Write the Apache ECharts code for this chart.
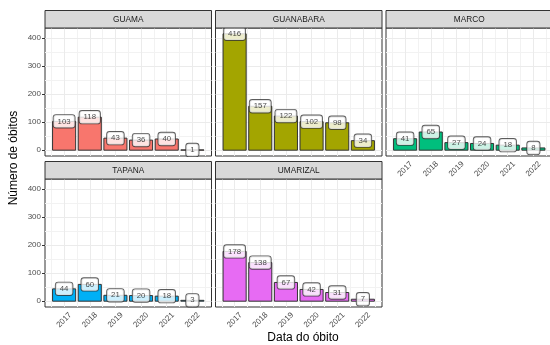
<!DOCTYPE html>
<html>
<head>
<meta charset="utf-8">
<script src="https://cdn.jsdelivr.net/npm/echarts@6/dist/echarts.min.js"></script>
<style>
  html, body { margin: 0; padding: 0; background: #fff; }
  #chart { width: 550px; height: 345px; }
</style>
</head>
<body>
<div id="chart"></div>
<script>
// Óbitos por bairro e ano
const bairros = ['GUAMA', 'GUANABARA', 'MARCO', 'TAPANA', 'UMARIZAL'];
const anos = [2017, 2018, 2019, 2020, 2021, 2022];
const anoLabels = ['2017', '2018', '2019', '2020', '2021', '2022'];

const guama     = [103, 118, 43, 36, 40, 1];
const guanabara = [416, 157, 122, 102, 98, 34];
const marco     = [41, 65, 27, 24, 18, 8];
const tapana    = [44, 60, 21, 20, 18, 3];
const umarizal  = [178, 138, 67, 42, 31, 7];

const yTicks = [0, 100, 200, 300, 400];
const yMinor = [50, 150, 250, 350];
const xMinor = [2016.5, 2017.5, 2018.5, 2019.5, 2020.5, 2021.5, 2022.5];

const valores = [guama, guanabara, marco, tapana, umarizal];
const cores = ['#F8766D', '#A3A500', '#00BF7D', '#00B0F6', '#E76BF3'];

// panel layout (facet grid 2 x 3)
const FONT = '"Liberation Sans", Arial, sans-serif';
const colLeft = [45, 215.5, 386];
const rowTop = [28, 179];
const PW = 166.5, PH = 128, STRIP = 17.5;
const posicao = [[0, 0], [0, 1], [0, 2], [1, 0], [1, 1]];
const mostraX = [false, false, true, true, true];

// scale limits with ggplot-style expansion
const yMax = Math.max(...valores.flat());
const yMin = -0.05 * yMax, yTop = yMax * 1.05;
const xLo = anos[0] - 0.45, xHi = anos[anos.length - 1] + 0.45;
const xPad = 0.05 * (xHi - xLo);

const grids = [], xAxes = [], yAxes = [], series = [], graphics = [];

bairros.forEach((nome, k) => {
  const [r, c] = posicao[k];
  const left = colLeft[c], top = rowTop[r];
  grids.push({
    left: left, top: top, width: PW, height: PH,
    show: true, backgroundColor: '#fff', borderColor: '#333', borderWidth: 1,
    containLabel: false, outerBoundsMode: 'none'
  });
  xAxes.push({
    type: 'value', gridIndex: k, min: xLo - xPad, max: xHi + xPad,
    splitLine: { show: false }, axisLine: { show: false },
    axisTick: { show: mostraX[k], customValues: anos, length: 3, lineStyle: { color: '#333', width: 1 } },
    axisLabel: {
      show: mostraX[k], customValues: anos,
      formatter: v => anoLabels[anos.indexOf(Math.round(v))],
      rotate: 45, align: 'center', verticalAlign: 'middle', margin: 13,
      fontSize: 8, color: '#4D4D4D', fontFamily: FONT
    }
  });
  yAxes.push({
    type: 'value', gridIndex: k, min: yMin, max: yTop,
    splitLine: { show: false }, axisLine: { show: false },
    axisTick: { show: c === 0, customValues: yTicks, length: 3, lineStyle: { color: '#333', width: 1 } },
    axisLabel: {
      show: c === 0, customValues: yTicks, margin: 4,
      fontSize: 8, color: '#4D4D4D', fontFamily: FONT
    }
  });

  // panel grid lines (kept underneath the bars)
  const linhas = [];
  yMinor.forEach(v => linhas.push({ yAxis: v, lineStyle: { color: '#F2F2F2', width: 1 } }));
  xMinor.forEach(v => linhas.push({ xAxis: v, lineStyle: { color: '#F2F2F2', width: 1 } }));
  yTicks.forEach(v => linhas.push({ yAxis: v, lineStyle: { color: '#EBEBEB', width: 1 } }));
  anos.forEach(v => linhas.push({ xAxis: v, lineStyle: { color: '#EBEBEB', width: 1 } }));
  series.push({
    type: 'line', xAxisIndex: k, yAxisIndex: k, data: [], z: 1, silent: true,
    markLine: {
      z: 1, silent: true, symbol: ['none', 'none'], label: { show: false },
      animation: false, lineStyle: { type: 'solid' }, data: linhas
    }
  });

  const dados = anos.map((a, i) => [a, valores[k][i]]);
  const cor = cores[k];
  series.push({
    type: 'custom', xAxisIndex: k, yAxisIndex: k, z: 3, data: dados,
    encode: { x: 0, y: 1 },
    renderItem: (params, api) => {
      const x = api.value(0), v = api.value(1);
      const p0 = api.coord([x - 0.45, v]);
      const p1 = api.coord([x + 0.45, 0]);
      return {
        type: 'rect',
        shape: { x: p0[0], y: p0[1], width: p1[0] - p0[0], height: p1[1] - p0[1] },
        style: { fill: cor, stroke: '#333', lineWidth: 1 }
      };
    }
  });
  series.push({
    type: 'scatter', xAxisIndex: k, yAxisIndex: k, z: 4, data: dados,
    symbolSize: 0.1, itemStyle: { color: 'transparent' },
    label: {
      show: true, position: 'inside', formatter: p => String(p.value[1]),
      fontSize: 7.8, color: '#1A1A1A', fontFamily: FONT,
      backgroundColor: '#fff', borderColor: '#333', borderWidth: 0.9,
      borderRadius: 2.5, padding: [2.5, 4, 2, 4]
    }
  });

  // facet strip
  graphics.push({
    type: 'rect', shape: { x: left, y: top - STRIP, width: PW, height: STRIP },
    style: { fill: '#D9D9D9', stroke: '#333', lineWidth: 1 }, z: 10
  });
  graphics.push({
    type: 'text', x: left + PW / 2, y: top - STRIP / 2,
    style: { text: nome, fill: '#1A1A1A', font: '8.3px ' + FONT, textAlign: 'center', textVerticalAlign: 'middle' },
    z: 11
  });
});

graphics.push({
  type: 'text', x: 303, y: 338,
  style: { text: 'Data do óbito', fill: '#000', font: '12px ' + FONT, textAlign: 'center', textVerticalAlign: 'middle' }
});
graphics.push({
  type: 'text', x: 14, y: 158, rotation: Math.PI / 2,
  style: { text: 'Número de óbitos', fill: '#000', font: '12px ' + FONT, textAlign: 'center', textVerticalAlign: 'middle' }
});

const chart = echarts.init(document.getElementById('chart'), null, { renderer: 'canvas' });
chart.setOption({
  animation: false,
  backgroundColor: '#fff',
  grid: grids, xAxis: xAxes, yAxis: yAxes, series: series, graphic: graphics
});
</script>
</body>
</html>
